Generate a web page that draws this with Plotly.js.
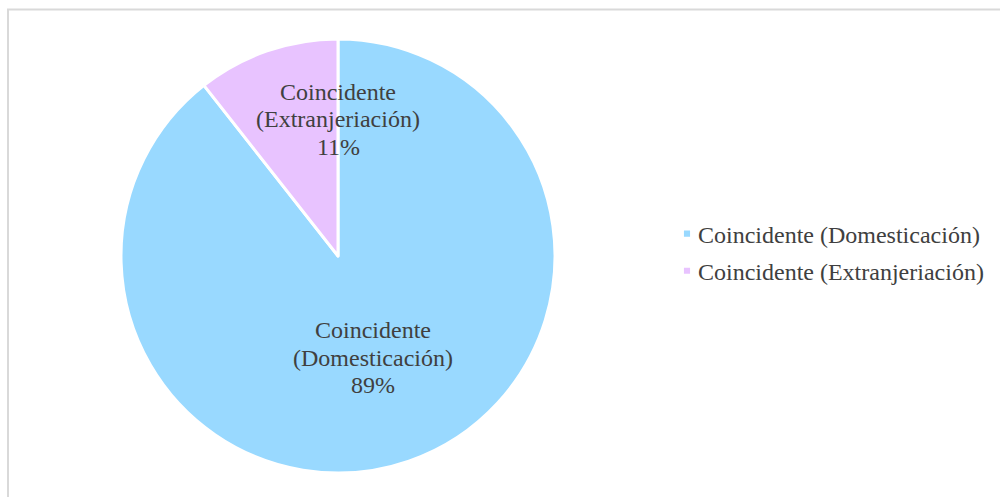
<!DOCTYPE html>
<html>
<head>
<meta charset="utf-8">
<script src="https://cdn.plot.ly/plotly-3.0.1.min.js"></script>
<style>html,body{margin:0;padding:0;background:#fff;}#chart{width:1000px;height:497px;}</style>
</head>
<body>
<div id="chart"></div>
<script>
const categories = ["Coincidente (Domesticación)", "Coincidente (Extranjeriación)"];
const labelLines = [["Coincidente", "(Domesticación)"], ["Coincidente", "(Extranjeriación)"]];
const values = [89.4, 10.6];
const colors = ["#99D9FF", "#E8C3FF"];

const total = values.reduce((a, b) => a + b, 0);
const pct = values.map(v => Math.round(v / total * 100) + "%");

// label block centres (pixels) and line spacing
const labelCentre = [{x: 373, y: 357.5}, {x: 338, y: 119.5}];
const lineGap = 27.5;

const font = {family: "Liberation Serif", size: 24, color: "#404040"};

const trace = {
  type: "pie",
  labels: categories,
  values: values,
  sort: false,
  direction: "clockwise",
  rotation: 0,
  marker: {colors: colors, line: {color: "#ffffff", width: 3}},
  textinfo: "none",
  hoverinfo: "none",
  domain: {x: [121 / 1000, 555 / 1000], y: [24 / 497, 458 / 497]}
};

const annotations = [];
categories.forEach((c, i) => {
  const lines = labelLines[i].concat([pct[i]]);
  lines.forEach((t, k) => {
    annotations.push({
      xref: "paper", yref: "paper",
      x: labelCentre[i].x / 1000,
      y: 1 - (labelCentre[i].y + (k - 1) * lineGap) / 497,
      xanchor: "center", yanchor: "middle",
      text: t, showarrow: false, font: font
    });
  });
});

const layout = {
  width: 1000, height: 497,
  margin: {l: 0, r: 0, t: 0, b: 0},
  paper_bgcolor: "#ffffff",
  font: font,
  showlegend: true,
  legend: {
    x: 0.658, y: 1 - 251 / 497, xanchor: "left", yanchor: "middle",
    font: font, itemwidth: 30
  },
  annotations: annotations,
  shapes: [{
    type: "rect", xref: "paper", yref: "paper",
    x0: 8 / 1000, x1: 1.05, y0: -0.05, y1: 1 - 9.5 / 497,
    line: {color: "#D9D9D9", width: 2}, fillcolor: "rgba(0,0,0,0)"
  }]
};

Plotly.newPlot("chart", [trace], layout, {staticPlot: true, displayModeBar: false}).then(gd => {
  gd.querySelectorAll(".legendpoints path").forEach(p => {
    p.setAttribute("transform", "translate(29,0) scale(0.68)");
  });
  gd.querySelectorAll(".legend .traces").forEach((g, i) => {
    const t = g.getAttribute("transform") || "";
    const m = t.match(/translate\(\s*([-\d.]+)[ ,]+([-\d.]+)\s*\)/);
    if (m) g.setAttribute("transform", "translate(" + m[1] + "," + (parseFloat(m[2]) + i * 3) + ")");
  });
});
</script>
</body>
</html>
